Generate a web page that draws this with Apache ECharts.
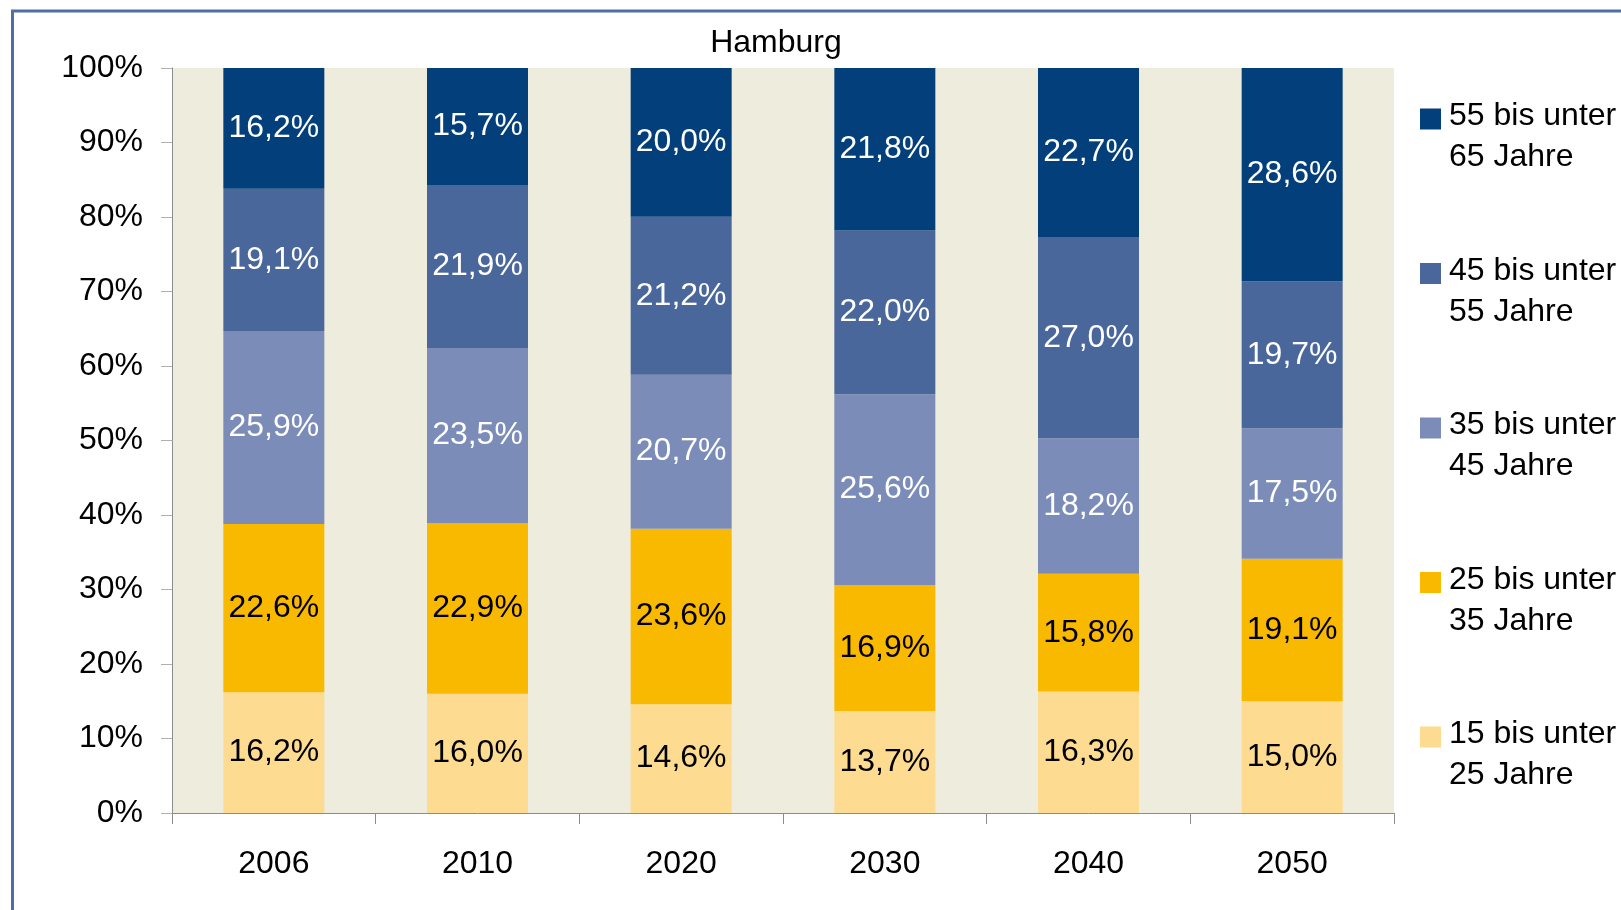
<!DOCTYPE html>
<html lang="de">
<head>
    <meta charset="utf-8">
    <script src="https://cdn.jsdelivr.net/npm/echarts@6/dist/echarts.min.js"></script>
    <style>
        html, body { margin: 0; padding: 0; background: #ffffff; }
        #chart { width: 1621px; height: 910px; }
    </style>
</head>
<body>
<div id="chart"></div>
<script type="text/javascript">
    // Daten (Anteile in %, von unten nach oben gestapelt)
    var years = ['2006', '2010', '2020', '2030', '2040', '2050'];
    var seriesNames = ['15 bis unter 25 Jahre', '25 bis unter 35 Jahre', '35 bis unter 45 Jahre',
        '45 bis unter 55 Jahre', '55 bis unter 65 Jahre'];
    var age15to25 = [16.2, 16.0, 14.6, 13.7, 16.3, 15.0];
    var age25to35 = [22.6, 22.9, 23.6, 16.9, 15.8, 19.1];
    var age35to45 = [25.9, 23.5, 20.7, 25.6, 18.2, 17.5];
    var age45to55 = [19.1, 21.9, 21.2, 22.0, 27.0, 19.7];
    var age55to65 = [16.2, 15.7, 20.0, 21.8, 22.7, 28.6];
    var yTicks = [0, 10, 20, 30, 40, 50, 60, 70, 80, 90, 100];

    var rows = [age15to25, age25to35, age35to45, age45to55, age55to65];
    var colors = ['#fddc91', '#f9b900', '#7b8cb8', '#4a679c', '#023f7b'];
    var labelColors = ['#000000', '#000000', '#ffffff', '#ffffff', '#ffffff'];
    var font = 'Liberation Sans, Arial, sans-serif';

    // 100%-Stapel: auf Summe je Jahr normieren, Beschriftung zeigt Originalwert
    var totals = years.map(function (y, i) {
        return rows.reduce(function (s, r) { return s + r[i]; }, 0);
    });

    var series = rows.map(function (row, k) {
        return {
            name: seriesNames[k],
            type: 'bar',
            stack: 'gesamt',
            barWidth: 101,
            itemStyle: { color: colors[k] },
            label: {
                show: true,
                position: 'inside',
                color: labelColors[k],
                fontFamily: font,
                fontSize: 32,
                formatter: function (p) {
                    return row[p.dataIndex].toFixed(1).replace('.', ',') + '%';
                }
            },
            emphasis: { disabled: true },
            data: row.map(function (v, i) { return v / totals[i] * 100; })
        };
    });

    var chart = echarts.init(document.getElementById('chart'));
    var option = {
        animation: false,
        backgroundColor: '#ffffff',
        title: {
            text: 'Hamburg',
            left: 771,
            top: 22,
            textAlign: 'center',
            textStyle: { fontFamily: font, fontSize: 32, fontWeight: 'normal', color: '#000000' }
        },
        graphic: [{
            type: 'rect',
            shape: { x: 12.5, y: 11, width: 1700, height: 1000 },
            style: { fill: 'none', stroke: '#4f6da6', lineWidth: 3 },
            silent: true
        }],
        legend: {
            orient: 'vertical',
            left: 1420,
            top: 73,
            padding: 0,
            itemGap: 54,
            itemWidth: 21,
            itemHeight: 21,
            icon: 'rect',
            selectedMode: false,
            data: seriesNames.slice().reverse(),
            // leere Zeile oben, damit das Kästchen neben der ersten Textzeile steht
            formatter: function (name) {
                var parts = name.split(' unter ');
                return '{s| }\n{t|' + parts[0] + ' unter}\n{t|' + parts[1] + '}';
            },
            textStyle: {
                fontFamily: font,
                fontSize: 32,
                color: '#000000',
                rich: {
                    s: { fontSize: 10, lineHeight: 36 },
                    t: { fontFamily: font, fontSize: 32, lineHeight: 41, color: '#000000', padding: [0, 0, 0, 3] }
                }
            }
        },
        grid: {
            left: 172,
            top: 68,
            right: 227,
            bottom: 97,
            show: true,
            backgroundColor: '#eeecdc',
            borderWidth: 0
        },
        xAxis: {
            type: 'category',
            data: years,
            axisLine: { lineStyle: { color: '#8c8c8c', width: 1 } },
            axisTick: { show: true, length: 11, lineStyle: { color: '#8c8c8c' } },
            axisLabel: { margin: 35, fontFamily: font, fontSize: 32, color: '#000000' }
        },
        yAxis: {
            type: 'value',
            min: yTicks[0],
            max: yTicks[yTicks.length - 1],
            interval: yTicks[1] - yTicks[0],
            splitLine: { show: false },
            axisLine: { show: true, lineStyle: { color: '#8c8c8c', width: 1 } },
            axisTick: { show: true, length: 11, lineStyle: { color: '#b0b0b0' } },
            axisLabel: {
                margin: 29,
                fontFamily: font,
                fontSize: 32,
                color: '#000000',
                formatter: '{value}%'
            }
        },
        series: series
    };
    chart.setOption(option);
</script>
</body>
</html>
